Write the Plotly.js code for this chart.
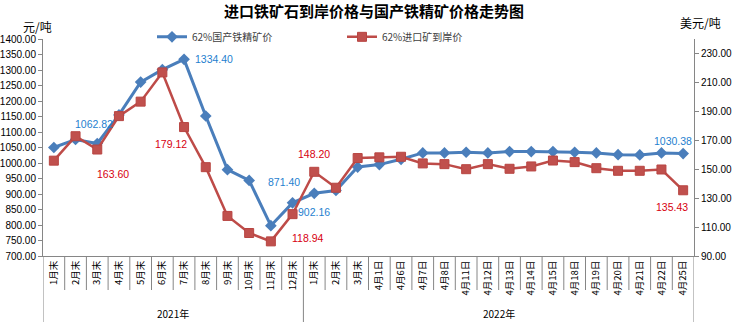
<!DOCTYPE html>
<html>
<head>
<meta charset="utf-8">
<script src="https://cdn.plot.ly/plotly-3.0.1.min.js"></script>
<style>html,body{margin:0;padding:0;background:#fff}#chart{width:739px;height:322px}</style>
</head>
<body>
<div id="chart"></div>
<script>
const categories = ['1月末','2月末','3月末','4月末','5月末','6月末','7月末','8月末','9月末','10月末','11月末','12月末',
  '1月末','2月末','3月末','4月1日','4月6日','4月7日','4月8日','4月11日','4月12日','4月13日','4月14日','4月15日','4月18日','4月19日','4月20日','4月21日','4月22日','4月25日'];
const years = ['2021年','2022年'];
const yearCounts = [12, 18];
const domesticName = '62%国产铁精矿价';
const importName = '62%进口矿到岸价';
const domestic = [1050, 1076, 1062.82, 1155, 1261, 1301, 1334.40, 1151.6, 978.6, 943.8, 797.7, 871.40, 902.16, 911.4, 987, 994.8, 1012, 1032.5, 1032.5, 1034.7, 1032.5, 1037, 1037, 1037, 1034.7, 1032.5, 1027, 1026, 1032.5, 1030.38];
const imported = [155.9, 172.8, 163.60, 186.7, 196.7, 216.9, 179.12, 151.4, 117.7, 105.9, 100.1, 118.94, 148.20, 137.2, 157.7, 158.2, 158.6, 154.0, 153.5, 150.0, 153.5, 150.3, 151.9, 156.0, 154.9, 150.7, 148.9, 148.9, 149.8, 135.43];
const domesticLabelIdx = [2, 6, 11, 12, 29];
const importLabelIdx = [2, 6, 11, 12, 29];

// label placement (styling only)
const domesticShift = {2:[-3,20], 6:[30,0], 11:[-9,21], 12:[0,-19], 29:[-10,13]};
const importShift = {2:[16,-24], 6:[-13,-17], 11:[15,-24], 12:[0,18], 29:[-11,-17]};

const xs = categories.map((_, i) => i);
const FONT = 'Liberation Sans, Arial, Noto Sans CJK SC, sans-serif';
const CJK = 'Noto Sans CJK SC, sans-serif';

const W = 739, H = 322, L = 43, R = 45, T = 39, B = 66;
const pw = W - L - R, ph = H - T - B;

const traces = [
  {x: xs, y: domestic, name: domesticName, type: 'scatter', mode: 'lines+markers', yaxis: 'y',
   line: {color: '#4a7ebb', width: 3}, marker: {symbol: 'diamond', size: 9, color: '#4a7ebb'}},
  {x: xs, y: imported, name: importName, type: 'scatter', mode: 'lines+markers', yaxis: 'y2',
   line: {color: '#be4b48', width: 2.5}, marker: {symbol: 'square', size: 9, color: '#c0504d', line: {color: '#b84542', width: 1}}}
];

const annotations = [];
domesticLabelIdx.forEach(i => {
  const s = domesticShift[i];
  annotations.push({x: i, y: domestic[i], xref: 'x', yref: 'y', text: domestic[i].toFixed(2), showarrow: false,
    xshift: s[0], yshift: s[1], font: {family: FONT, size: 10.5, color: '#1f7fcf'}});
});
importLabelIdx.forEach(i => {
  const s = importShift[i];
  annotations.push({x: i, y: imported[i], xref: 'x', yref: 'y2', text: imported[i].toFixed(2), showarrow: false,
    xshift: s[0], yshift: s[1], font: {family: FONT, size: 10.5, color: '#d7000f'}});
});
// year group labels
let start = 0;
years.forEach((yr, k) => {
  const mid = start + yearCounts[k] / 2 - 0.5;
  annotations.push({x: mid, y: -0.263, xref: 'x', yref: 'paper', text: yr, showarrow: false, yanchor: 'middle',
    font: {family: CJK, size: 10, color: '#000'}});
  start += yearCounts[k];
});
// axis unit titles
annotations.push({x: (37 - L) / pw, y: (H - B - 26.5) / ph, xref: 'paper', yref: 'paper', text: '元/吨', showarrow: false,
  xanchor: 'center', yanchor: 'middle', font: {family: CJK, size: 12, color: '#000'}});
annotations.push({x: (700 - L) / pw, y: (H - B - 22) / ph, xref: 'paper', yref: 'paper', text: '美元/吨', showarrow: false,
  xanchor: 'center', yanchor: 'middle', font: {family: CJK, size: 12, color: '#000'}});

// separators under the x axis
const shapes = [];
const bounds = [0];
yearCounts.reduce((acc, c) => { bounds.push(acc + c); return acc + c; }, 0);
for (let i = 0; i <= categories.length; i++) {
  const isGroup = bounds.includes(i);
  shapes.push({type: 'line', xref: 'x', yref: 'paper', x0: i - 0.5, x1: i - 0.5, y0: 0, y1: isGroup ? -(B / ph) : -(34 / ph),
    line: {color: '#868686', width: 1}});
}

const layout = {
  width: W, height: H,
  margin: {l: L, r: R, t: T, b: B, pad: 0},
  paper_bgcolor: '#fff', plot_bgcolor: '#fff',
  font: {family: FONT, size: 10, color: '#000'},
  title: {text: '<b>进口铁矿石到岸价格与国产铁精矿价格走势图</b>', x: 0.506, xanchor: 'center', y: 1 - 12 / H, yanchor: 'middle',
    font: {family: CJK, size: 15, color: '#000'}},
  showlegend: true,
  legend: {orientation: 'h', x: (152 - L) / pw, xanchor: 'left', y: 1.01, yanchor: 'middle', bgcolor: 'rgba(0,0,0,0)',
    font: {family: CJK, size: 10, color: '#404040'}, entrywidth: 145, entrywidthmode: 'pixels', itemwidth: 30},
  xaxis: {type: 'linear', range: [-0.5, categories.length - 0.5], tickmode: 'array', tickvals: xs, ticktext: categories,
    tickangle: -90, ticks: '', showgrid: false, zeroline: false, showline: true, linecolor: '#868686', linewidth: 1,
    tickfont: {family: CJK, size: 9.5, color: '#000'}, fixedrange: true},
  yaxis: {range: [700, 1400], dtick: 50, tick0: 700, tickformat: '.2f', showgrid: false, zeroline: false,
    showline: true, linecolor: '#868686', linewidth: 1, ticks: 'outside', ticklen: 4, tickcolor: '#868686',
    tickfont: {family: FONT, size: 10, color: '#000'}},
  yaxis2: {range: [90, 240], dtick: 20, tick0: 90, tickformat: '.2f', overlaying: 'y', side: 'right', showgrid: false, zeroline: false,
    showline: true, linecolor: '#868686', linewidth: 1, ticks: 'outside', ticklen: 4, tickcolor: '#868686',
    tickfont: {family: FONT, size: 10, color: '#000'}},
  annotations: annotations,
  shapes: shapes
};

Plotly.newPlot('chart', traces, layout, {displayModeBar: false, staticPlot: true});
</script>
</body>
</html>
